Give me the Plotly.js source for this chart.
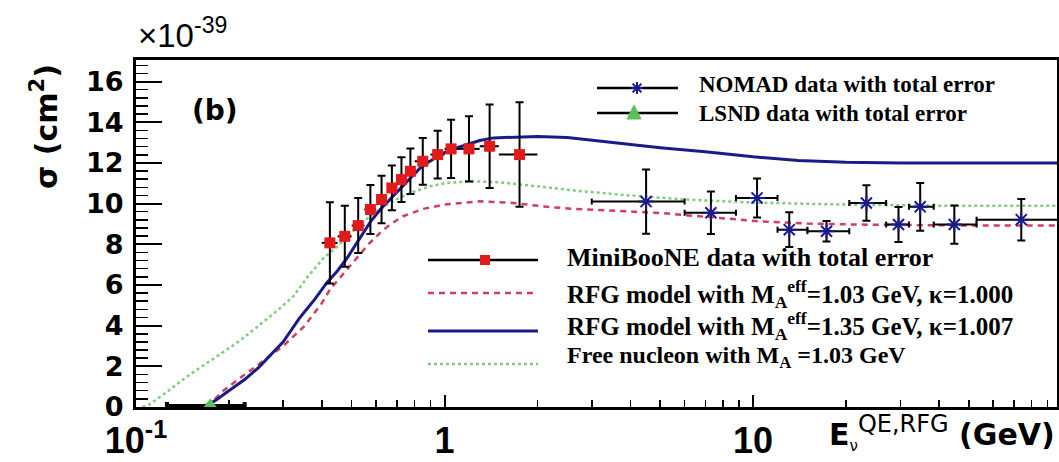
<!DOCTYPE html>
<html>
<head>
<meta charset="utf-8">
<script src="https://cdn.plot.ly/plotly-3.0.1.min.js"></script>
<style>html,body{margin:0;padding:0;background:#fff;}#chart{width:1059px;height:462px;}</style>
</head>
<body>
<div id="chart"></div>
<script>
// ---------------- data ----------------
// MiniBooNE data with total error (x 1e-39 cm^2)
const mbE      = [0.425, 0.475, 0.525, 0.575, 0.625, 0.675, 0.725, 0.775, 0.85, 0.95, 1.05, 1.2, 1.4, 1.75];
const mbBinLo  = [0.40, 0.45, 0.50, 0.55, 0.60, 0.65, 0.70, 0.75, 0.80, 0.90, 1.00, 1.10, 1.30, 1.50];
const mbBinHi  = [0.45, 0.50, 0.55, 0.60, 0.65, 0.70, 0.75, 0.80, 0.90, 1.00, 1.10, 1.30, 1.50, 2.00];
const mbXsec   = [8.07, 8.39, 8.92, 9.71, 10.2, 10.77, 11.18, 11.59, 12.08, 12.41, 12.69, 12.69, 12.82, 12.41];
const mbErr    = [2.0, 1.5, 1.35, 1.2, 1.17, 1.1, 1.1, 1.12, 1.15, 1.17, 1.43, 1.6, 2.05, 2.57];

// NOMAD data with total error
const nomadE     = [4.5, 7.3, 10.3, 13.1, 17.3, 23.3, 29.6, 34.8, 44.9, 74];
const nomadBinLo = [3.0, 6.0, 8.8, 12.0, 15.0, 20.5, 27.0, 32.0, 38.5, 53.0];
const nomadBinHi = [6.0, 8.8, 12.0, 15.0, 20.5, 27.0, 32.0, 38.5, 53.0, 100];
const nomadXsec  = [10.1, 9.55, 10.28, 8.72, 8.64, 10.03, 8.97, 9.84, 8.97, 9.21];
const nomadErr   = [1.58, 1.05, 0.96, 0.85, 0.5, 0.87, 0.86, 1.17, 0.94, 1.02];

// LSND data with total error
const lsndE     = [0.174];
const lsndBinLo = [0.126];
const lsndBinHi = [0.225];
const lsndXsec  = [0.05];

// RFG model, M_A^eff = 1.03 GeV, kappa = 1.000 (red dashed)
const rfg103E    = [0.17, 0.18, 0.19, 0.21, 0.25, 0.3, 0.35, 0.4, 0.425, 0.482, 0.525, 0.566, 0.618, 0.666, 0.734, 0.852, 1.0, 1.3, 1.67, 2.15, 2.62, 3.5, 5, 7, 10.5, 15, 22, 40, 100];
const rfg103Xsec = [0, 0.4, 0.75, 1.25, 2.1, 3.0, 3.95, 5.1, 5.77, 6.76, 7.41, 7.99, 8.56, 8.97, 9.38, 9.74, 9.95, 10.11, 10.03, 9.84, 9.74, 9.65, 9.54, 9.35, 9.13, 9.02, 8.97, 8.93, 8.92];

// RFG model, M_A^eff = 1.35 GeV, kappa = 1.007 (blue solid)
const rfg135E    = [0.165, 0.18, 0.2, 0.225, 0.25, 0.3, 0.34, 0.38, 0.415, 0.45, 0.482, 0.532, 0.575, 0.618, 0.67, 0.718, 0.775, 0.834, 0.9, 0.967, 1.05, 1.18, 1.3, 1.44, 1.7, 2.0, 2.5, 3.5, 5, 7, 10, 14, 20, 30, 50, 100];
const rfg135Xsec = [0, 0.3, 0.8, 1.35, 1.95, 3.2, 4.4, 5.3, 6.1, 6.7, 7.3, 8.3, 9.1, 9.7, 10.25, 10.69, 11.25, 11.75, 12.1, 12.41, 12.65, 12.9, 13.1, 13.23, 13.28, 13.3, 13.25, 13.0, 12.75, 12.55, 12.3, 12.12, 12.03, 12.0, 12.0, 12.0];

// Free nucleon, M_A = 1.03 GeV (green dotted)
const freeE    = [0.105, 0.11, 0.125, 0.142, 0.16, 0.183, 0.21, 0.234, 0.26, 0.29, 0.324, 0.36, 0.404, 0.45, 0.5, 0.55, 0.6, 0.65, 0.718, 0.8, 0.9, 1.0, 1.2, 1.5, 2.0, 2.8, 4, 6, 10, 20, 40, 100];
const freeXsec = [0, 0.1, 0.7, 1.35, 1.9, 2.5, 3.1, 3.65, 4.2, 4.8, 5.45, 6.4, 7.3, 7.9, 8.6, 9.15, 9.6, 9.95, 10.3, 10.6, 10.85, 11.0, 11.1, 11.05, 10.85, 10.6, 10.4, 10.2, 10.05, 9.95, 9.9, 9.9];

// axis ticks
const xTickVals  = [0.1, 1, 10];
const xTickText  = ['10<sup>-1</sup>', '1', '10'];
const xMinorVals = [0.2,0.3,0.4,0.5,0.6,0.7,0.8,0.9, 2,3,4,5,6,7,8,9, 20,30,40,50,60,70,80,90];

// legend labels
const legTop = ['NOMAD data with total error', 'LSND data with total error'];
const legBottom = [
  'MiniBooNE data with total error',
  'RFG model with M<sub>A</sub><sup>eff</sup>=1.03 GeV, κ=1.000',
  'RFG model with M<sub>A</sub><sup>eff</sup>=1.35 GeV, κ=1.007',
  'Free nucleon with M<sub>A</sub> =1.03 GeV'
];

// ---------------- styling ----------------
const RED = '#e31a1c', NAVY = '#1a1a8a', DASHRED = '#cf3f5e', GREEN = '#7fcb7f', TRI = '#5cbf5c';

const minus = (c, lo) => c.map((v, i) => v - lo[i]);
const plus  = (c, hi) => c.map((v, i) => hi[i] - v);

const traces = [
  {x: freeE, y: freeXsec, mode: 'lines', line: {color: GREEN, width: 2.5, dash: 'dot'}, showlegend: false},
  {x: rfg103E, y: rfg103Xsec, mode: 'lines', line: {color: DASHRED, width: 2.5, dash: '6px,5px'}, showlegend: false},
  {x: rfg135E, y: rfg135Xsec, mode: 'lines', line: {color: NAVY, width: 3}, showlegend: false},
  {x: nomadE, y: nomadXsec, mode: 'markers',
   marker: {symbol: 'asterisk-open', size: 13, color: NAVY, line: {color: NAVY, width: 2}},
   error_x: {type: 'data', symmetric: false, array: plus(nomadE, nomadBinHi), arrayminus: minus(nomadE, nomadBinLo), color: 'black', thickness: 2, width: 3},
   error_y: {type: 'data', array: nomadErr, color: 'black', thickness: 2, width: 4},
   showlegend: false},
  {x: lsndE, y: lsndXsec, mode: 'markers', cliponaxis: false,
   marker: {symbol: 'triangle-up', size: 15, color: TRI},
   error_x: {type: 'data', symmetric: false, array: plus(lsndE, lsndBinHi), arrayminus: minus(lsndE, lsndBinLo), color: 'black', thickness: 4, width: 4},
   showlegend: false},
  {x: mbE, y: mbXsec, mode: 'markers',
   marker: {symbol: 'square', size: 11, color: RED},
   error_x: {type: 'data', symmetric: false, array: plus(mbE, mbBinHi), arrayminus: minus(mbE, mbBinLo), color: 'black', thickness: 2, width: 0},
   error_y: {type: 'data', array: mbErr, color: 'black', thickness: 2, width: 4},
   showlegend: false}
];

// pixel -> paper helpers for decorations
const L = 136, R = 1057, T = 60, B = 407;
const px = p => (p - L) / (R - L);
const py = p => (B - p) / (B - T);

const shapes = [];
const annotations = [];
function hline(x0, x1, y, color, width, dash) {
  shapes.push({type: 'line', xref: 'paper', yref: 'paper', x0: px(x0), x1: px(x1), y0: py(y), y1: py(y),
               line: {color: color, width: width, dash: dash || 'solid'}});
}
function label(text, x, y, size, opts) {
  annotations.push(Object.assign({text: text, xref: 'paper', yref: 'paper', x: px(x), y: py(y),
    xanchor: 'left', yanchor: 'middle', showarrow: false,
    font: {family: 'Liberation Serif, Times New Roman, serif', size: size, color: 'black', weight: 'bold'}}, opts || {}));
}

// top legend
hline(597, 678, 88, 'black', 2.5);
(function () { // asterisk sample
  const cx = 637, cy = 88, r = 6, d = 4.4;
  const p = `M ${px(cx - r)} ${py(cy)} L ${px(cx + r)} ${py(cy)} M ${px(cx)} ${py(cy - r)} L ${px(cx)} ${py(cy + r)} ` +
            `M ${px(cx - d)} ${py(cy - d)} L ${px(cx + d)} ${py(cy + d)} M ${px(cx - d)} ${py(cy + d)} L ${px(cx + d)} ${py(cy - d)}`;
  shapes.push({type: 'path', xref: 'paper', yref: 'paper', path: p, line: {color: NAVY, width: 2}});
})();
hline(597, 678, 113, 'black', 2.5);
shapes.push({type: 'path', xref: 'paper', yref: 'paper',
  path: `M ${px(634)} ${py(105)} L ${px(641)} ${py(119)} L ${px(627)} ${py(119)} Z`,
  fillcolor: TRI, line: {color: TRI, width: 1}});
label(legTop[0], 697, 84, 23);
label(legTop[1], 697, 113, 23);

// bottom legend
hline(428, 538, 260, 'black', 2.5);
shapes.push({type: 'rect', xref: 'paper', yref: 'paper', x0: px(480), x1: px(490), y0: py(265), y1: py(255),
  fillcolor: RED, line: {color: RED, width: 0}});
hline(428, 538, 293, DASHRED, 2.5, '6px,5px');
hline(428, 538, 331, NAVY, 3);
hline(428, 538, 364, GREEN, 2.5, 'dot');
label(legBottom[0], 565, 257, 26);
label(legBottom[1], 565, 294, 25);
label(legBottom[2], 565, 326, 25);
label(legBottom[3], 565, 357, 24);

// panel tag, exponent, axis titles
annotations.push({text: '(b)', xref: 'paper', yref: 'paper', x: px(215), y: py(110), xanchor: 'center', yanchor: 'middle',
  showarrow: false, font: {family: 'DejaVu Sans, sans-serif', size: 28, color: 'black', weight: 'bold'}});
annotations.push({text: '×10<sup>-39</sup>', xref: 'paper', yref: 'paper', x: px(136), y: py(33), xanchor: 'left', yanchor: 'middle',
  showarrow: false, font: {family: 'Liberation Sans, Arial, sans-serif', size: 33, color: 'black'}});
annotations.push({text: 'σ (cm<sup>2</sup>)', xref: 'paper', yref: 'paper', x: px(45), y: py(127), xanchor: 'center', yanchor: 'middle',
  textangle: -90, showarrow: false, font: {family: 'DejaVu Sans, sans-serif', size: 30, color: 'black', weight: 'bold'}});
annotations.push({text: 'E<sub><span style="font-weight:normal;font-size:15px">ν</span></sub><sup><span style="font-weight:normal;font-size:24px">QE,RFG</span></sup> (GeV)',
  xref: 'paper', yref: 'paper', x: px(1057), y: py(432), xanchor: 'right', yanchor: 'middle',
  showarrow: false, font: {family: 'DejaVu Sans, sans-serif', size: 30, color: 'black', weight: 'bold'}});

const layout = {
  width: 1059, height: 462,
  margin: {l: L, r: 1059 - R, t: T, b: 462 - B, pad: 0},
  paper_bgcolor: 'white', plot_bgcolor: 'white',
  showlegend: false,
  xaxis: {
    type: 'log', range: [-1, 1.985],
    showline: true, mirror: true, linecolor: 'black', linewidth: 3,
    showgrid: false, zeroline: false,
    tickmode: 'array', tickvals: xTickVals, ticktext: xTickText,
    ticks: 'inside', ticklen: 12, tickwidth: 2, tickcolor: 'black',
    ticklabelstandoff: 0,
    tickfont: {family: 'Liberation Sans Narrow, Liberation Sans, Arial, sans-serif', size: 36, color: 'black', weight: 'bold'},
    minor: {tickmode: 'array', tickvals: xMinorVals, ticks: 'inside', ticklen: 7, tickwidth: 1.5, tickcolor: 'black', showgrid: false}
  },
  yaxis: {
    range: [0, 17.06],
    showline: true, mirror: true, linecolor: 'black', linewidth: 3,
    showgrid: false, zeroline: false,
    dtick: 2, tick0: 0,
    ticks: 'inside', ticklen: 26, tickwidth: 2, tickcolor: 'black',
    ticklabelstandoff: 4,
    tickfont: {family: 'DejaVu Sans, sans-serif', size: 27, color: 'black', weight: 'bold'},
    minor: {dtick: 0.4, tick0: 0, ticks: 'inside', ticklen: 12, tickwidth: 1.5, tickcolor: 'black', showgrid: false}
  },
  shapes: shapes,
  annotations: annotations
};

Plotly.newPlot('chart', traces, layout, {staticPlot: true, displayModeBar: false});
</script>
</body>
</html>
